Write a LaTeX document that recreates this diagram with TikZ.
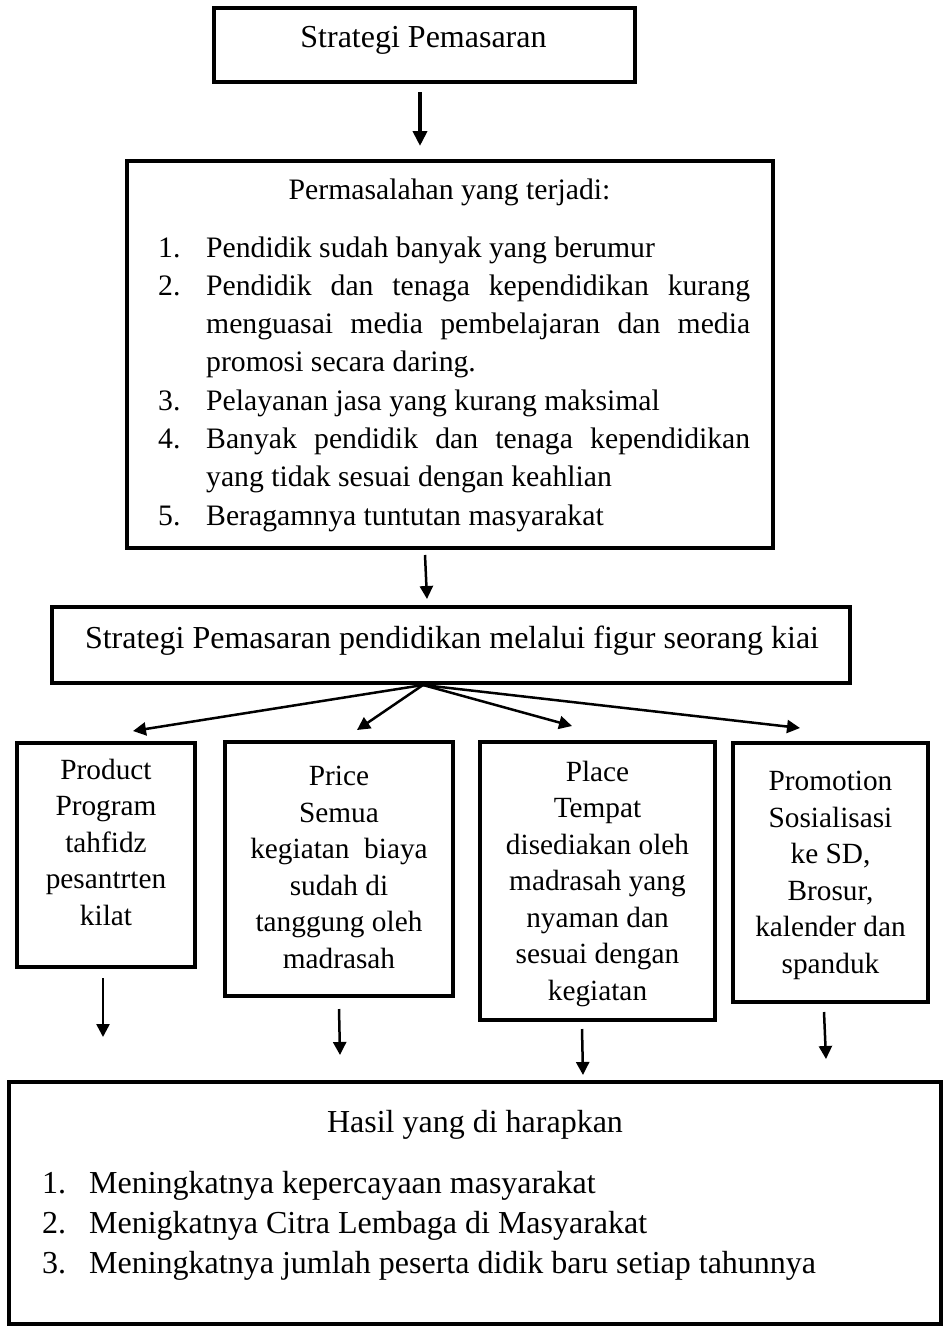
\documentclass[tikz,border=0pt]{standalone}
\usepackage{fontspec}
\setmainfont{Liberation Serif}
\usetikzlibrary{arrows.meta}
\begin{document}
\begin{tikzpicture}[x=1pt,y=-1pt,
  box/.style={draw, line width=4pt, inner sep=0pt},
  arr/.style={line width=2.5pt, -{Triangle[length=13pt,width=13pt]}},
  arrthick/.style={line width=4.5pt, -{Triangle[length=15pt,width=14pt]}},
  big/.style={font=\fontsize{32}{40}\selectfont, inner sep=0pt},
  mid/.style={font=\fontsize{29.7}{38.3}\selectfont, inner sep=0pt},
  small/.style={font=\fontsize{29.3}{36.5}\selectfont, inner sep=0pt, align=center}]
\useasboundingbox (0,0) rectangle (944,1326);

% boxes
\node[box, minimum width=421pt, minimum height=74pt] (b1) at (424.5,45) {};
\node[box, minimum width=646pt, minimum height=387pt] (b2) at (450,354.5) {};
\node[box, minimum width=798pt, minimum height=76pt] (b3) at (451,645) {};
\node[box, minimum width=178pt, minimum height=224pt] (pr) at (106,855) {};
\node[box, minimum width=228pt, minimum height=254pt] (pc) at (339,869) {};
\node[box, minimum width=235pt, minimum height=278pt] (pl) at (597.5,881) {};
\node[box, minimum width=195pt, minimum height=259pt] (pm) at (830.5,872.5) {};
\node[box, minimum width=932pt, minimum height=242pt] (res) at (475,1203) {};

% texts
\node[big, anchor=base] (t1) at (423.5,47) {Strategi Pemasaran};
\node[mid, anchor=base] (t2h) at (449.5,199) {Permasalahan yang terjadi:};
\node[mid, anchor=base west, text width=592pt, align=justify] (t2l) at (158,257) {%
\tolerance=10000\parindent=0pt\parskip=0pt
\hangindent=48pt\hangafter=1\makebox[48pt][l]{1.}Pendidik sudah banyak yang berumur\par
\hangindent=48pt\hangafter=1\makebox[48pt][l]{2.}Pendidik dan tenaga kependidikan kurang \linebreak menguasai media pembelajaran dan media \linebreak promosi secara daring.\par
\hangindent=48pt\hangafter=1\makebox[48pt][l]{3.}Pelayanan jasa yang kurang maksimal\par
\hangindent=48pt\hangafter=1\makebox[48pt][l]{4.}Banyak pendidik dan tenaga kependidikan \linebreak yang tidak sesuai dengan keahlian\par
\hangindent=48pt\hangafter=1\makebox[48pt][l]{5.}Beragamnya tuntutan masyarakat\par};
\node[big, anchor=base] (t3) at (452,648) {Strategi Pemasaran pendidikan melalui figur seorang kiai};
% multi-line nodes: base anchor = last line's baseline
\node[small, anchor=base] (tpr) at (106,925) {Product\\Program\\tahfidz\\pesantrten\\kilat};
\node[small, anchor=base] (tpc) at (339,968) {Price\\Semua\\kegiatan\ \ biaya\\sudah di\\tanggung oleh\\madrasah};
\node[small, anchor=base] (tpl) at (597.5,1000) {Place\\Tempat\\disediakan oleh\\madrasah yang\\nyaman dan\\sesuai dengan\\kegiatan};
\node[small, anchor=base] (tpm) at (830.5,973) {Promotion\\Sosialisasi\\ke SD,\\Brosur,\\kalender dan\\spanduk};
\node[big, anchor=base] (trh) at (475,1132) {Hasil yang di harapkan};
\node[big, anchor=base west, align=left] (trl) at (42,1273) {%
\makebox[47pt][l]{1.}Meningkatnya kepercayaan masyarakat\\
\makebox[47pt][l]{2.}Menigkatnya Citra Lembaga di Masyarakat\\
\makebox[47pt][l]{3.}Meningkatnya jumlah peserta didik baru setiap tahunnya};

% connectors
\draw[arrthick] ([xshift=-4.5pt,yshift=-8pt]b1.south) -- ([xshift=-30pt,yshift=13pt]b2.north);
\draw[arr] ([xshift=-25pt,yshift=-5pt]b2.south) -- ([xshift=-24pt,yshift=6pt]b3.north);
\draw[arr] ([xshift=-28pt]b3.south) -- ([xshift=27pt,yshift=10pt]pr.north);
\draw[arr] ([xshift=-28pt]b3.south) -- ([xshift=18pt,yshift=10pt]pc.north);
\draw[arr] ([xshift=-28pt]b3.south) -- ([xshift=-25.5pt,yshift=14pt]pl.north);
\draw[arr] ([xshift=-28pt]b3.south) -- ([xshift=-30.5pt,yshift=13pt]pm.north);
\draw[arr] ([xshift=-3pt,yshift=-9pt]pr.south) -- ([xshift=-3pt,yshift=-68pt]pr.south);
\draw[arr] ([yshift=-11pt]pc.south) -- ([xshift=1pt,yshift=-57pt]pc.south);
\draw[arr] ([xshift=-15.5pt,yshift=-7pt]pl.south) -- ([xshift=-14.5pt,yshift=-53pt]pl.south);
\draw[arr] ([xshift=-6.5pt,yshift=-8pt]pm.south) -- ([xshift=-4.5pt,yshift=-55pt]pm.south);
\end{tikzpicture}
\end{document}
